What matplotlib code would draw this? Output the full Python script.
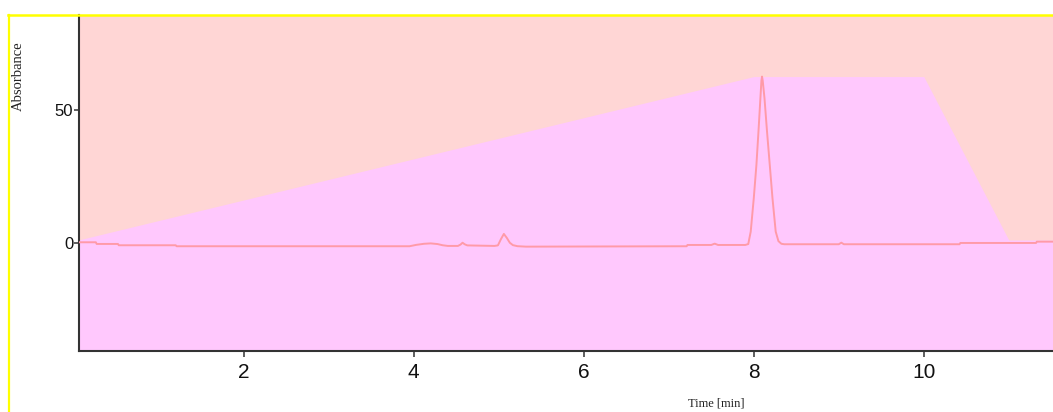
import matplotlib
matplotlib.use("Agg")
import matplotlib.pyplot as plt
from matplotlib.lines import Line2D

# Chromatogram trace: retention time [min] and absorbance
trace_time = [0.06, 0.26, 0.27, 0.52, 0.53, 1.20, 1.21, 3.95, 4.03, 4.12, 4.20,
              4.28, 4.34, 4.40, 4.52, 4.55, 4.574, 4.60, 4.63, 4.70, 4.95, 4.99,
              5.025, 5.06, 5.095, 5.13, 5.166, 5.22, 5.32, 7.21, 7.22, 7.50, 7.54,
              7.58, 7.90, 7.935, 7.964, 8.000, 8.031, 8.055, 8.078, 8.090, 8.097,
              8.105, 8.126, 8.156, 8.188, 8.220, 8.258, 8.290, 8.325, 8.36, 9.00,
              9.03, 9.06, 10.42, 10.43, 11.32, 11.33, 11.6]
trace_abs = [0.37, 0.37, -0.26, -0.26, -0.75, -0.75, -1.12, -1.12, -0.6, -0.2, -0.05,
             -0.3, -0.75, -1.0, -1.0, -0.5, 0.2, -0.4, -0.8, -0.85, -1.0, -0.8,
             1.5, 3.5, 2.0, 0.2, -0.7, -1.1, -1.27, -1.12, -0.64, -0.64, -0.15,
             -0.64, -0.64, -0.3, 4.35, 16.9, 29.4, 41.8, 54.4, 61.0, 62.5,
             61.0, 54.4, 41.8, 29.4, 16.9, 4.35, 0.8, -0.2, -0.37, -0.37,
             0.22, -0.37, -0.37, 0.11, 0.11, 0.6, 0.6]

# Solvent gradient profile (drawn on the absorbance scale)
gradient_time = [0.0, 8.0, 10.0, 11.0, 11.6]
gradient_level = [0.8, 62.5, 62.5, 1.2, 1.2]

x_ticks = [2, 4, 6, 8, 10]
y_ticks = [0, 50]
x_range = (0.062, 11.52)
y_range = (-40.4, 85.4)

W, H = 1053, 412
fig = plt.figure(figsize=(W / 100, H / 100), dpi=100)
fig.patch.set_facecolor("white")

ax = fig.add_axes([79 / W, 1 - 351 / H, (W - 79) / W, (351 - 15.5) / H])
ax.set_facecolor("#ffd6d5")
ax.set_xlim(*x_range)
ax.set_ylim(*y_range)

ax.fill_between(gradient_time, gradient_level, y_range[0], color="#ffc8fd",
                linewidth=0, zorder=1)
ax.plot(trace_time, trace_abs, color="#ff9aa8", linewidth=1.4, zorder=3,
        solid_joinstyle="round")

for side in ("top", "right"):
    ax.spines[side].set_visible(False)
for side in ("left", "bottom"):
    ax.spines[side].set_color("#333333")
    ax.spines[side].set_linewidth(1.5)

ax.set_xticks(x_ticks)
ax.set_xticklabels([str(v) for v in x_ticks],
                   family=["Liberation Sans Narrow", "DejaVu Sans Condensed",
                           "Liberation Sans"], fontsize=15)
ax.set_yticks(y_ticks)
ax.set_yticklabels([str(v) for v in y_ticks], family=["Liberation Sans"],
                   fontsize=12)
ax.tick_params(axis="x", length=4.3, width=1.1, color="#333333", pad=4.5,
               labelcolor="#111111")
ax.tick_params(axis="y", length=3.6, width=1.1, color="#333333", pad=0.5,
               labelcolor="#111111")

fig.text(18 / W, 1 - 76.5 / H, "Absorbance", rotation=90, ha="center",
         va="center", family=["Liberation Serif"], fontsize=10.5, color="#222222")
fig.text(716 / W, 1 - 403 / H, "Time [min]", ha="center", va="center",
         family=["Liberation Serif"], fontsize=9, color="#222222")

# Yellow frame around the plot panel
fig.add_artist(Line2D([8 / W, 1.0], [1 - 14.5 / H, 1 - 14.5 / H],
                      transform=fig.transFigure, color="#ffff00", linewidth=1.8))
fig.add_artist(Line2D([9 / W, 9 / W], [0.0, 1 - 14.5 / H],
                      transform=fig.transFigure, color="#ffff00", linewidth=1.6))

fig.savefig("out.png", dpi=100, facecolor=fig.get_facecolor())
